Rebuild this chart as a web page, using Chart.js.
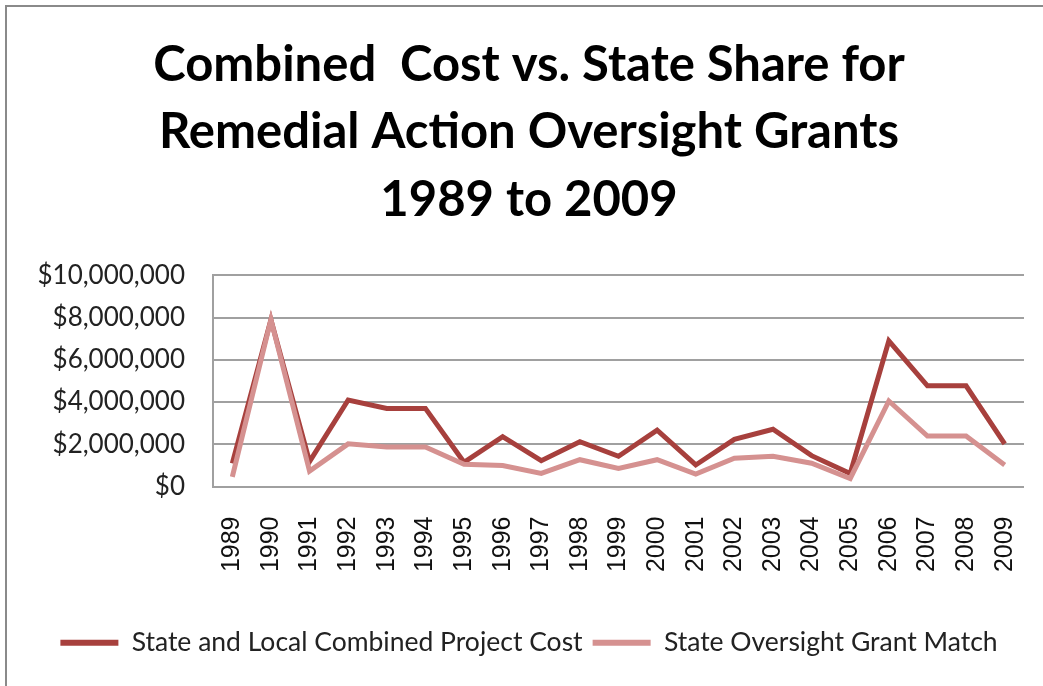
<!DOCTYPE html>
<html>
<head>
<meta charset="utf-8">
<script src="https://cdn.jsdelivr.net/npm/chart.js@4/dist/chart.umd.min.js"></script>
<style>
    body { margin: 0; background: #fff; }
    #wrap { position: relative; width: 1043px; height: 686px; overflow: hidden; }
    #frame { position: absolute; left: 5px; top: 5px; width: 1100px; height: 800px;
             border-left: 2px solid #8a8a8a; border-top: 2px solid #8a8a8a; pointer-events: none; }
</style>
</head>
<body>
<div id="wrap">
    <canvas id="chart"></canvas>
    <div id="frame"></div>
</div>
<script>
var years = ["1989", "1990", "1991", "1992", "1993", "1994", "1995", "1996", "1997", "1998", "1999",
             "2000", "2001", "2002", "2003", "2004", "2005", "2006", "2007", "2008", "2009"];

var combinedCost = [1100000, 7900000, 1180000, 4100000, 3700000, 3700000, 1150000, 2360000, 1220000, 2120000, 1430000,
                    2670000, 1020000, 2230000, 2710000, 1460000, 620000, 6900000, 4770000, 4770000, 2020000];

var stateMatch = [460000, 7900000, 730000, 2020000, 1870000, 1870000, 1050000, 990000, 620000, 1270000, 860000,
                  1270000, 590000, 1340000, 1430000, 1100000, 380000, 4050000, 2390000, 2390000, 1020000];

var yTicks = [0, 2000000, 4000000, 6000000, 8000000, 10000000];

var titleLines = ["Combined  Cost vs. State Share for", "Remedial Action Oversight Grants", "1989 to 2009"];

var darkRed = "#A7403D";
var lightRed = "#D59190";

function money(v) {
    return "$" + Number(v).toLocaleString("en-US");
}

var ctx = document.getElementById("chart");
new Chart(ctx, {
    type: "line",
    data: {
        labels: years,
        datasets: [
            {
                label: "State and Local Combined Project Cost",
                data: combinedCost,
                borderColor: darkRed,
                backgroundColor: darkRed,
                borderWidth: 5,
                pointRadius: 0,
                order: 1
            },
            {
                label: "State Oversight Grant Match",
                data: stateMatch,
                borderColor: lightRed,
                backgroundColor: lightRed,
                borderWidth: 5,
                pointRadius: 0,
                order: 0
            }
        ]
    },
    options: {
        responsive: true,
        maintainAspectRatio: false,
        animation: false,
        layout: { padding: { left: 34, right: 19, top: 0, bottom: 20 } },
        plugins: {
            title: {
                display: true,
                text: titleLines,
                color: "#000",
                font: { family: "Lato", size: 49, weight: "bold", lineHeight: 1.37 },
                padding: { top: 32, bottom: 42 }
            },
            legend: {
                position: "bottom",
                labels: {
                    color: "#222",
                    font: { family: "Lato", size: 26.5 },
                    boxWidth: 58,
                    boxHeight: 6,
                    padding: 10,
                    sort: function(a, b) { return a.datasetIndex - b.datasetIndex; },
                    generateLabels: function(chart) {
                        var items = Chart.defaults.plugins.legend.labels.generateLabels(chart);
                        for (var i in items)
                            items[i].lineWidth = 0;
                        return items;
                    }
                }
            },
            tooltip: { enabled: false }
        },
        scales: {
            x: {
                offset: true,
                grid: { display: false, drawTicks: false },
                border: { display: false },
                ticks: {
                    color: "#111",
                    font: { family: "Liberation Sans", size: 25 },
                    minRotation: 90,
                    maxRotation: 90,
                    autoSkip: false,
                    padding: 30
                },
                afterFit: function(scale) {
                    scale.height = 133;
                    // rotated labels would otherwise pull the right edge in
                    scale.paddingLeft = 0;
                    scale.paddingRight = 0;
                }
            },
            y: {
                min: 0,
                max: 10000000,
                grid: { color: "#a0a0a0", lineWidth: 2, drawTicks: false },
                border: { display: true, color: "#a0a0a0", width: 2 },
                afterBuildTicks: function(scale) {
                    scale.ticks = yTicks.map(function(v) { return { value: v }; });
                },
                ticks: {
                    color: "#222",
                    font: { family: "Lato", size: 26 },
                    padding: 28,
                    callback: function(v) { return money(v); }
                },
                afterFit: function(scale) { scale.width = 179; }
            }
        }
    }
});
</script>
</body>
</html>
